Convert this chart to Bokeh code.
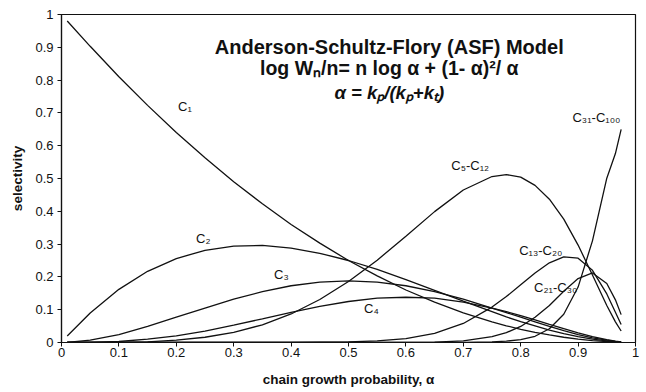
from bokeh.plotting import figure
from bokeh.models import Label, FixedTicker, Range1d, CustomJSTickFormatter
from bokeh.embed import file_html
from bokeh.resources import INLINE

# chain growth probability (alpha) sample points
alpha = [0.01, 0.05, 0.1, 0.15, 0.2, 0.25, 0.3, 0.35, 0.4, 0.45, 0.5, 0.55, 0.6,
         0.65, 0.7, 0.75, 0.775, 0.8, 0.825, 0.85, 0.875, 0.9, 0.925, 0.95, 0.965, 0.975]

c1 = [0.980, 0.903, 0.810, 0.723, 0.640, 0.563, 0.490, 0.423, 0.360, 0.303, 0.250, 0.203, 0.160,
      0.123, 0.090, 0.063, 0.051, 0.040, 0.031, 0.023, 0.016, 0.010, 0.006, 0.003, 0.001, 0.001]
c2 = [0.020, 0.090, 0.162, 0.217, 0.256, 0.281, 0.294, 0.296, 0.288, 0.272, 0.250, 0.223, 0.192,
      0.159, 0.126, 0.094, 0.078, 0.064, 0.051, 0.038, 0.027, 0.018, 0.010, 0.005, 0.002, 0.001]
c3 = [0.000, 0.007, 0.024, 0.049, 0.077, 0.105, 0.132, 0.155, 0.173, 0.184, 0.188, 0.184, 0.173,
      0.155, 0.132, 0.105, 0.091, 0.077, 0.063, 0.049, 0.036, 0.024, 0.014, 0.007, 0.003, 0.002]
c4 = [0.000, 0.000, 0.003, 0.010, 0.020, 0.035, 0.053, 0.072, 0.092, 0.110, 0.125, 0.135, 0.138,
      0.135, 0.123, 0.105, 0.094, 0.082, 0.069, 0.055, 0.042, 0.029, 0.018, 0.009, 0.004, 0.002]
c5_12 = [0.000, 0.000, 0.000, 0.002, 0.007, 0.016, 0.031, 0.054, 0.087, 0.131, 0.186, 0.251, 0.324,
         0.399, 0.465, 0.506, 0.512, 0.504, 0.479, 0.437, 0.376, 0.297, 0.206, 0.113, 0.063, 0.035]
c13_20 = [0.000, 0.000, 0.000, 0.000, 0.000, 0.000, 0.000, 0.000, 0.000, 0.001, 0.002, 0.005, 0.012,
          0.028, 0.058, 0.108, 0.140, 0.176, 0.212, 0.243, 0.261, 0.257, 0.220, 0.148, 0.092, 0.055]
c21_30 = [0.000, 0.000, 0.000, 0.000, 0.000, 0.000, 0.000, 0.000, 0.000, 0.000, 0.000, 0.000, 0.000,
          0.001, 0.005, 0.018, 0.030, 0.049, 0.077, 0.113, 0.156, 0.195, 0.212, 0.180, 0.130, 0.085]
c31_100 = [0.000, 0.000, 0.000, 0.000, 0.000, 0.000, 0.000, 0.000, 0.000, 0.000, 0.000, 0.000, 0.000,
           0.000, 0.000, 0.002, 0.004, 0.009, 0.019, 0.042, 0.086, 0.169, 0.310, 0.501, 0.576, 0.650]

series = [c1, c2, c3, c4, c5_12, c13_20, c21_30, c31_100]
series_names = ["C₁", "C₂", "C₃", "C₄", "C₅-C₁₂", "C₁₃-C₂₀", "C₂₁-C₃₀", "C₃₁-C₁₀₀"]

tick_values = [0, 0.1, 0.2, 0.3, 0.4, 0.5, 0.6, 0.7, 0.8, 0.9, 1]
tick_labels = ["0", "0.1", "0.2", "0.3", "0.4", "0.5", "0.6", "0.7", "0.8", "0.9", "1"]

title_lines = ["Anderson-Schultz-Flory (ASF) Model",
               "log Wₙ/n= n log α + (1- α)²/ α",
               "α = kₚ/(kₚ+kₜ)"]

FONT = "Liberation Sans"

p = figure(width=646, height=392, x_range=Range1d(0, 1), y_range=Range1d(0, 1),
           output_backend="svg", toolbar_location=None,
           min_border_left=61, min_border_right=11, min_border_top=14, min_border_bottom=50)
p.background_fill_color = "white"
p.border_fill_color = "white"
p.outline_line_color = "#111111"
p.outline_line_width = 1.2
p.xgrid.visible = False
p.ygrid.visible = False

fmt = CustomJSTickFormatter(args=dict(tv=tick_values, tl=tick_labels), code="""
const i = tv.findIndex(t => Math.abs(t - tick) < 1e-9);
return i >= 0 ? tl[i] : '';
""")

for ax in (p.xaxis[0], p.yaxis[0]):
    ax.ticker = FixedTicker(ticks=tick_values)
    ax.formatter = fmt
    ax.minor_tick_line_color = None
    ax.major_tick_in = 0
    ax.major_tick_out = 4
    ax.axis_line_color = "#111111"
    ax.axis_line_width = 1.2
    ax.major_tick_line_color = "#111111"
    ax.major_label_text_font = FONT
    ax.major_label_text_font_size = "13px"
    ax.major_label_text_color = "#111111"
    ax.axis_label_text_font = FONT
    ax.axis_label_text_font_size = "13.5px"
    ax.axis_label_text_font_style = "bold"
    ax.axis_label_text_color = "#111111"

p.xaxis.axis_label = "chain growth probability, α"
p.yaxis.axis_label = "selectivity"
p.xaxis.major_label_standoff = 1
p.xaxis.axis_label_standoff = 12
p.yaxis.major_label_standoff = 4
p.yaxis.axis_label_standoff = 7

for ys in series:
    p.line(alpha, ys, line_color="#111111", line_width=1.3)

# curve labels (placement)
label_pos = [(0.215, 0.72), (0.247, 0.318), (0.383, 0.206), (0.54, 0.105),
             (0.712, 0.54), (0.835, 0.282), (0.861, 0.169), (0.932, 0.687)]
for name, (lx, ly) in zip(series_names, label_pos):
    p.add_layout(Label(x=lx, y=ly, text=name, text_font=FONT, text_font_size="13px",
                       text_align="center", text_baseline="middle", text_color="#111111"))

# title block inside the plot
title_pos = [(0.571, 0.900, "20px", "bold"), (0.571, 0.836, "19.5px", "bold"),
             (0.571, 0.762, "18.5px", "bold italic")]
for txt, (tx, ty, fs, st) in zip(title_lines, title_pos):
    p.add_layout(Label(x=tx, y=ty, text=txt, text_font=FONT, text_font_size=fs,
                       text_font_style=st, text_align="center", text_baseline="middle",
                       text_color="#111111"))

open("out.html", "w").write(file_html(p, INLINE))
